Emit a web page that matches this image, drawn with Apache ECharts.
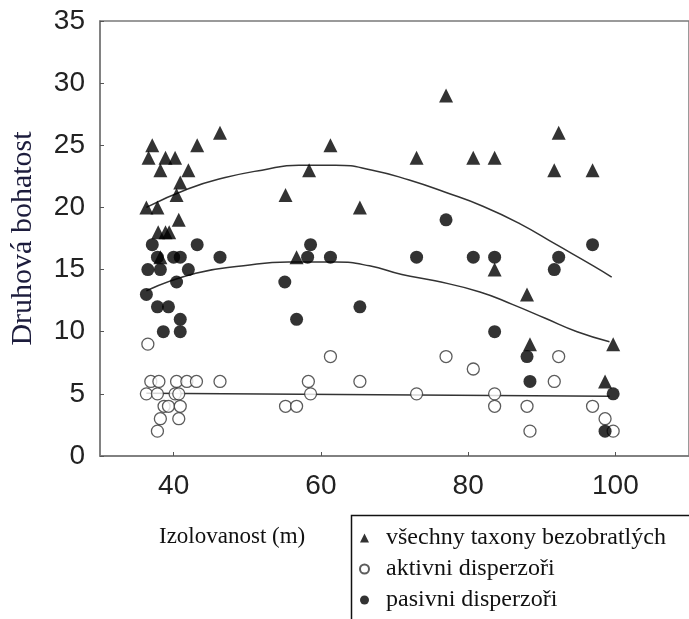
<!DOCTYPE html>
<html>
<head>
<meta charset="utf-8">
<script src="https://cdn.jsdelivr.net/npm/echarts@6/dist/echarts.min.js"></script>
<style>
  body { margin:0; background:#fff; }
  #main { width:689px; height:619px; }
</style>
</head>
<body>
<div id="main"></div>
<script>
// data
var xTicks = [40, 60, 80, 100];

var triX = [37.1, 36.6, 38.9, 40.2, 38.2, 42.0, 40.9, 40.4, 36.3, 37.8, 40.7, 37.9, 38.9, 39.4, 38.2, 43.2, 46.3, 55.2, 56.7, 77.0, 61.3, 58.4, 65.3, 73.0, 80.7, 83.6, 92.3, 91.7, 96.9, 83.6, 88.0, 88.4, 98.6, 99.7];
var triY = [25, 24, 24, 24, 23, 23, 22, 21, 20, 20, 19, 18, 18, 18, 16, 25, 26, 21, 16, 29, 25, 23, 20, 24, 24, 24, 26, 23, 23, 15, 13, 9, 6, 9];

var pasX = [37.1, 43.2, 37.8, 40.0, 40.9, 46.3, 36.5, 38.2, 42.0, 40.4, 36.3, 37.8, 39.3, 40.9, 38.6, 40.9, 55.1, 77.0, 58.6, 58.2, 61.3, 73.0, 65.3, 56.7, 96.9, 80.7, 83.6, 92.3, 91.7, 83.6, 88.0, 88.4, 99.7, 98.6];
var pasY = [17, 17, 16, 16, 16, 16, 15, 15, 15, 14, 13, 12, 12, 11, 10, 10, 14, 19, 17, 16, 16, 16, 12, 11, 17, 16, 16, 16, 15, 10, 8, 6, 5, 2];

var aktX = [36.5, 36.9, 38.0, 40.4, 41.8, 43.1, 46.3, 36.3, 37.8, 40.2, 40.7, 38.7, 39.3, 40.9, 38.2, 40.7, 37.8, 61.3, 77.0, 58.3, 65.3, 58.6, 73.0, 55.2, 56.7, 92.3, 80.7, 91.7, 83.6, 83.6, 88.0, 96.9, 98.6, 88.4, 99.7];
var aktY = [9, 6, 6, 6, 6, 6, 6, 5, 5, 5, 5, 4, 4, 4, 3, 3, 2, 8, 8, 6, 6, 5, 5, 4, 4, 8, 7, 6, 5, 4, 4, 4, 3, 2, 2];

// fitted curves
var triFitX = [36.3, 42, 47, 52, 57, 62, 67, 72, 77, 82, 87, 92, 97, 99.5];
var triFitY = [20.0, 21.5, 22.4, 23.0, 23.4, 23.4, 23.0, 22.2, 21.2, 20.1, 18.7, 17.0, 15.3, 14.4];
var pasFitX = [36.3, 43, 49.5, 55.6, 62, 66.6, 71, 75.5, 81.6, 86, 90.4, 94.8, 99.2];
var pasFitY = [13.3, 14.7, 15.3, 15.6, 15.6, 15.3, 14.6, 14.1, 13.2, 12.2, 11.1, 10.0, 9.2];
var aktFitX = [36.3, 99.2];
var aktFitY = [5.05, 4.8];

var names = ['všechny taxony bezobratlých', 'aktivni disperzoři', 'pasivni disperzoři'];

function pairs(xs, ys) {
  var out = [];
  for (var i = 0; i < xs.length; i++) {
    out.push([xs[i], ys[i]]);
  }
  return out;
}

function fitLine(xs, ys) {
  return {
    type: 'line',
    data: pairs(xs, ys),
    smooth: true,
    showSymbol: false,
    silent: true,
    z: 1,
    lineStyle: { color: '#333', width: 1.5 }
  };
}

var myChart = echarts.init(document.getElementById('main'));

var option = {
  animation: false,
  backgroundColor: '#fff',
  grid: {
    left: 93,
    top: 21,
    width: 606,
    height: 435,
    show: true,
    borderColor: '#7a7a7a',
    borderWidth: 1.5
  },
  xAxis: {
    type: 'value',
    min: 30,
    max: 110,
    splitLine: { show: false },
    axisLine: { lineStyle: { color: '#7a7a7a', width: 1.5 } },
    axisTick: { inside: true, length: 4, customValues: xTicks, lineStyle: { color: '#555' } },
    axisLabel: {
      customValues: xTicks,
      margin: 16,
      color: '#222',
      fontFamily: 'Liberation Sans',
      fontSize: 28
    }
  },
  yAxis: {
    type: 'value',
    min: 0,
    max: 35,
    interval: 5,
    name: 'Druhová bohatost',
    nameLocation: 'middle',
    nameRotate: 90,
    nameGap: 62,
    nameTextStyle: { fontFamily: 'Liberation Serif', fontSize: 30, color: '#1c1c3c' },
    splitLine: { show: false },
    axisLine: { lineStyle: { color: '#7a7a7a', width: 1.5 } },
    axisTick: { inside: true, length: 4, lineStyle: { color: '#555' } },
    axisLabel: {
      margin: 15,
      color: '#222',
      fontFamily: 'Liberation Sans',
      fontSize: 28
    }
  },
  legend: {
    data: names,
    orient: 'vertical',
    left: 359,
    top: 526,
    padding: 0,
    itemWidth: 9,
    itemHeight: 9,
    itemGap: 7,
    textStyle: {
      fontFamily: 'Liberation Serif',
      fontSize: 24,
      lineHeight: 24,
      color: '#111',
      padding: [0, 0, 0, 12]
    }
  },
  graphic: [
    {
      type: 'rect',
      left: 349,
      top: 513,
      shape: { width: 360, height: 120 },
      style: { fill: 'none', stroke: '#111', lineWidth: 1.5 }
    },
    {
      type: 'text',
      left: 159,
      top: 525,
      style: {
        text: 'Izolovanost (m)',
        font: '23px "Liberation Serif"',
        fill: '#111'
      }
    }
  ],
  series: [
    fitLine(triFitX, triFitY),
    fitLine(pasFitX, pasFitY),
    fitLine(aktFitX, aktFitY),
    {
      name: names[1],
      type: 'scatter',
      symbol: 'circle',
      symbolSize: 12,
      z: 2,
      data: pairs(aktX, aktY),
      itemStyle: { color: '#fff', borderColor: '#333', borderWidth: 1.3 }
    },
    {
      name: names[0],
      type: 'scatter',
      symbol: 'triangle',
      symbolSize: 14,
      z: 3,
      data: pairs(triX, triY),
      itemStyle: { color: '#000' }
    },
    {
      name: names[2],
      type: 'scatter',
      symbol: 'circle',
      symbolSize: 13,
      z: 4,
      data: pairs(pasX, pasY),
      itemStyle: { color: '#000' }
    }
  ]
};

myChart.setOption(option);
window.onresize = myChart.resize;
</script>
</body>
</html>
